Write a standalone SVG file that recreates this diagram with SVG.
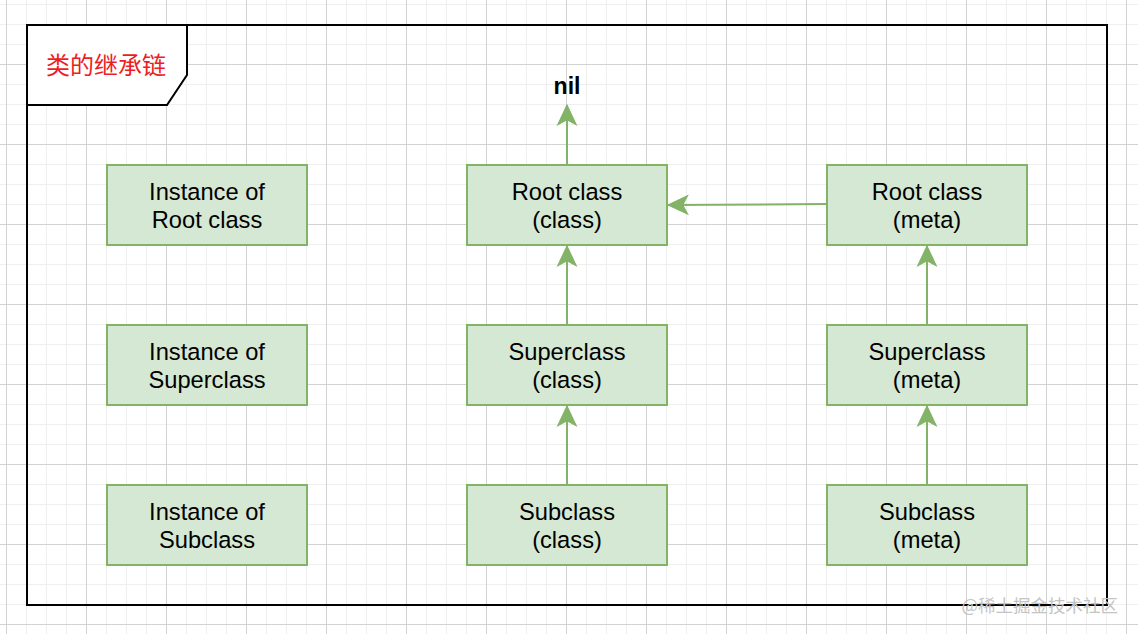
<svg xmlns="http://www.w3.org/2000/svg" width="1138" height="634" viewBox="0 0 1138 634">
  <style>
    .node rect { fill: #d5e8d4; stroke: #82b366; stroke-width: 2; }
    .node text { font-family: "Liberation Sans", Arial, sans-serif; font-size: 23.7px; fill: #000; text-anchor: middle; }
    .edge { stroke: #82b366; stroke-width: 2; fill: none; marker-end: url(#arrow); }
    .frame { fill: none; stroke: #000; stroke-width: 2; }
  </style>
  <defs>
    <pattern id="grid" x="6" y="-16" width="80" height="80" patternUnits="userSpaceOnUse">
      <rect x="0" y="0" width="80" height="80" fill="#ffffff"/>
      <g fill="#efefef">
        <rect x="20" y="0" width="1" height="80"/>
        <rect x="40" y="0" width="1" height="80"/>
        <rect x="60" y="0" width="1" height="80"/>
        <rect x="0" y="20" width="80" height="1"/>
        <rect x="0" y="40" width="80" height="1"/>
        <rect x="0" y="60" width="80" height="1"/>
      </g>
      <g fill="#d2d2d2">
        <rect x="0" y="0" width="1" height="80"/>
        <rect x="0" y="0" width="80" height="1"/>
      </g>
    </pattern>
    <marker id="arrow" markerUnits="userSpaceOnUse" markerWidth="24" markerHeight="24" viewBox="-20 -10 22 20" refX="0" refY="0" orient="auto">
      <path d="M0,0 L-18,-8.5 L-13.5,0 L-18,8.5 Z" fill="#82b366" stroke="#82b366" stroke-width="1" stroke-linejoin="miter"/>
    </marker>
  </defs>

  <rect x="0" y="0" width="1138" height="634" fill="url(#grid)"/>

  <g id="frame">
    <rect class="frame" x="27" y="25" width="1080" height="580"/>
    <path d="M27,25 L187,25 L187,75 L167,105 L27,105 Z" fill="#ffffff" stroke="#000" stroke-width="2"/>
    <text x="106" y="74" font-family="'Noto Sans CJK SC', sans-serif" font-size="24" fill="#ee1c25" text-anchor="middle">类的继承链</text>
  </g>

  <g id="connectors">
    <path class="edge" d="M567,165 L567,105"/>
    <path class="edge" d="M567,325 L567,246"/>
    <path class="edge" d="M567,485 L567,406"/>
    <path class="edge" d="M927,325 L927,246"/>
    <path class="edge" d="M927,485 L927,406"/>
    <path class="edge" d="M827,204 L668,205"/>
  </g>

  <g id="nil">
    <text x="567" y="94" font-family="'Liberation Sans', Arial, sans-serif" font-size="23" font-weight="bold" text-anchor="middle" fill="#000">nil</text>
  </g>

  <g id="inst-root" class="node">
    <rect x="107" y="165" width="200" height="80"/>
    <text x="207" y="200">Instance of</text>
    <text x="207" y="228">Root class</text>
  </g>
  <g id="inst-super" class="node">
    <rect x="107" y="325" width="200" height="80"/>
    <text x="207" y="360">Instance of</text>
    <text x="207" y="388">Superclass</text>
  </g>
  <g id="inst-sub" class="node">
    <rect x="107" y="485" width="200" height="80"/>
    <text x="207" y="520">Instance of</text>
    <text x="207" y="548">Subclass</text>
  </g>

  <g id="root-class" class="node">
    <rect x="467" y="165" width="200" height="80"/>
    <text x="567" y="200">Root class</text>
    <text x="567" y="228">(class)</text>
  </g>
  <g id="super-class" class="node">
    <rect x="467" y="325" width="200" height="80"/>
    <text x="567" y="360">Superclass</text>
    <text x="567" y="388">(class)</text>
  </g>
  <g id="sub-class" class="node">
    <rect x="467" y="485" width="200" height="80"/>
    <text x="567" y="520">Subclass</text>
    <text x="567" y="548">(class)</text>
  </g>

  <g id="root-meta" class="node">
    <rect x="827" y="165" width="200" height="80"/>
    <text x="927" y="200">Root class</text>
    <text x="927" y="228">(meta)</text>
  </g>
  <g id="super-meta" class="node">
    <rect x="827" y="325" width="200" height="80"/>
    <text x="927" y="360">Superclass</text>
    <text x="927" y="388">(meta)</text>
  </g>
  <g id="sub-meta" class="node">
    <rect x="827" y="485" width="200" height="80"/>
    <text x="927" y="520">Subclass</text>
    <text x="927" y="548">(meta)</text>
  </g>

  <g id="watermark">
    <text x="1118" y="612" font-family="'Noto Sans CJK SC', sans-serif" font-size="17.5" fill="#c4c4c4" text-anchor="end">@稀土掘金技术社区</text>
  </g>
</svg>
